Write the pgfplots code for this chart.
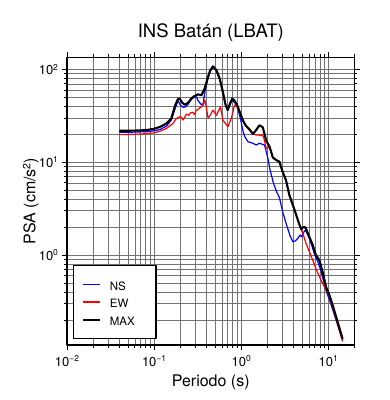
\documentclass[border=0pt]{standalone}
\usepackage{fontspec}
\setmainfont{TeX Gyre Heros}
\usepackage{pgfplots}
\pgfplotsset{compat=1.18}
\definecolor{nsblue}{RGB}{0,0,255}
\definecolor{ewred}{RGB}{255,0,0}
\newcommand\tsup[1]{\raisebox{4.5pt}{\fontsize{8.5}{8.5}\selectfont #1}}
\begin{document}
\begin{tikzpicture}
\useasboundingbox (-67pt,-55pt) rectangle (323pt,345pt);
\begin{loglogaxis}[
 at={(0pt,0pt)}, anchor=south west,
 scale only axis, width=287.5pt, height=287.7pt,
 xmin=0.01, xmax=20, ymin=0.107, ymax=135,
 enlargelimits=false,
 xtick={0.01,0.1,1,10},
 xticklabels={10\tsup{−2},10\tsup{−1},10\tsup{0},10\tsup{1}},
 minor xtick={0.02,0.03,0.04,0.05,0.06,0.07,0.08,0.09,0.2,0.3,0.4,0.5,0.6,0.7,0.8,0.9,2,3,4,5,6,7,8,9,20},
 ytick={1,10,100},
 yticklabels={10\tsup{0},10\tsup{1},10\tsup{2}},
 minor ytick={0.2,0.3,0.4,0.5,0.6,0.7,0.8,0.9,2,3,4,5,6,7,8,9,20,30,40,50,60,70,80,90},
 grid=both,
 major grid style={black!55, line width=0.5pt},
 minor grid style={black!55, line width=0.5pt},
 tick align=outside,
 major tick length=5.5pt, minor tick length=3pt,
 tick style={black, line width=0.6pt},
 axis line style={line width=1.4pt},
 ticklabel style={font=\fontsize{13}{15}\selectfont},
 xticklabel style={yshift=-1.8pt},
 extra description/.code={\node[anchor=base, font=\fontsize{18.5}{22}\selectfont, inner sep=0pt] at (axis description cs:0.5,1.0688) {INS Batán (LBAT)};},
 xlabel={Periodo (s)},
 xlabel style={at={(axis description cs:0.5,-0.1442)}, anchor=base, yshift=0pt, font=\fontsize{16}{18}\selectfont, inner sep=0pt},
 ylabel={PSA (cm/s\raisebox{5pt}{\fontsize{10.5}{10.5}\selectfont 2})},
 ylabel style={at={(axis description cs:-0.1100,0.5)}, anchor=base, rotate=0, font=\fontsize{16}{18}\selectfont, inner sep=0pt},
 legend style={at={(axis description cs:0.0219,0.0198)}, anchor=south west, draw=black, line width=1.2pt, fill=white,
   inner xsep=8.4pt, inner ysep=13.1pt, row sep=6.3pt, column sep=8.4pt,
   font=\fontsize{11.5}{13}\selectfont, nodes={inner sep=0pt, text height=11.5pt, text depth=0pt}},
 legend cell align=left,
 line join=round,
]
\addplot[color=nsblue, line width=1.2pt, mark=none] coordinates {
(0.040,21.0) (0.050,21.0) (0.070,21.2) (0.085,21.4) (0.100,21.8) (0.117,22.5) (0.139,24.5) (0.158,28.5) (0.173,37) (0.188,46) (0.200,41.5) (0.215,39) (0.230,39.5) (0.245,42) (0.268,47.5) (0.290,50.5) (0.306,50.5) (0.320,46) (0.350,41.5) (0.367,43) (0.380,55) (0.416,80) (0.440,95) (0.474,106) (0.520,97) (0.566,79) (0.617,56) (0.660,41.5) (0.700,36) (0.745,42) (0.790,46.5) (0.840,44) (0.893,41) (0.960,32) (1.000,27) (1.050,21.5) (1.100,18.8) (1.200,16.6) (1.360,16) (1.490,15.3) (1.620,16) (1.850,15.3) (1.940,13) (2.020,11.2) (2.150,8.2) (2.350,5.9) (2.550,4.8) (2.750,4.15) (3.000,2.9) (3.350,2.05) (3.650,1.6) (3.920,1.39) (4.200,1.42) (4.470,1.51) (4.760,1.64) (4.950,1.57) (5.200,1.75) (5.470,1.85) (6.000,1.55) (6.350,1.33) (7.000,1.0) (7.570,0.85) (8.260,0.67) (9.440,0.41) (10.30,0.33) (11.20,0.26) (12.60,0.185) (14.60,0.12)
};
\addlegendentry{\makebox[37.8pt][l]{NS}}
\addplot[color=ewred, line width=1.2pt, mark=none] coordinates {
(0.040,19.8) (0.050,19.9) (0.070,20.1) (0.085,20.4) (0.100,20.7) (0.117,21.6) (0.139,23.1) (0.165,26.2) (0.180,29.5) (0.197,31) (0.206,30.5) (0.215,28.4) (0.235,33) (0.250,32) (0.263,34) (0.280,34.5) (0.290,32.5) (0.305,36) (0.330,38) (0.365,41) (0.381,46.7) (0.397,40) (0.416,30) (0.440,32) (0.474,36.4) (0.520,32) (0.577,39.5) (0.617,28.4) (0.660,26) (0.705,24.1) (0.770,29.7) (0.840,41.2) (0.890,40.5) (0.950,35) (1.000,31.5) (1.070,27) (1.140,24.5) (1.250,22) (1.360,20.2) (1.490,19.6) (1.620,19.6) (1.800,19.1) (1.940,14.1) (2.120,14.5) (2.310,11.2) (2.540,10.5) (2.750,10.1) (2.990,7.9) (3.270,6.4) (3.580,4.4) (4.100,3.05) (4.600,2.2) (4.880,1.88) (5.100,1.71) (5.560,1.33) (6.630,0.88) (7.500,0.65) (8.630,0.494) (10.30,0.355) (12.00,0.22) (14.60,0.117)
};
\addlegendentry{\makebox[37.8pt][l]{EW}}
\addplot[color=black, line width=2.1pt, mark=none] coordinates {
(0.040,21.8) (0.050,21.8) (0.060,21.9) (0.070,22.0) (0.085,22.3) (0.100,22.9) (0.117,24) (0.139,26.2) (0.158,29.7) (0.173,40) (0.188,48) (0.197,48.3) (0.210,44) (0.225,41.5) (0.245,43.6) (0.268,48.6) (0.290,51.5) (0.320,53.8) (0.350,52.8) (0.380,62) (0.416,83) (0.440,97) (0.474,108) (0.520,98) (0.566,80) (0.617,57) (0.660,42) (0.700,36.5) (0.745,43) (0.790,48.5) (0.840,46) (0.890,42) (0.950,36) (1.000,31.5) (1.070,27) (1.140,24.5) (1.250,22.5) (1.360,20.2) (1.450,21.5) (1.620,25) (1.770,23.8) (1.940,17) (2.120,14.7) (2.310,11.2) (2.540,10.5) (2.750,10.1) (2.990,7.9) (3.270,6.4) (3.580,4.4) (4.100,3.05) (4.600,2.2) (4.880,1.9) (5.200,2.0) (5.470,1.98) (6.000,1.6) (6.630,1.28) (7.200,1.0) (7.900,0.88) (8.630,0.65) (9.440,0.45) (10.30,0.37) (11.20,0.29) (12.60,0.2) (14.60,0.125)
};
\addlegendentry{\makebox[37.8pt][l]{MAX}}
\end{loglogaxis}
\end{tikzpicture}
\end{document}
